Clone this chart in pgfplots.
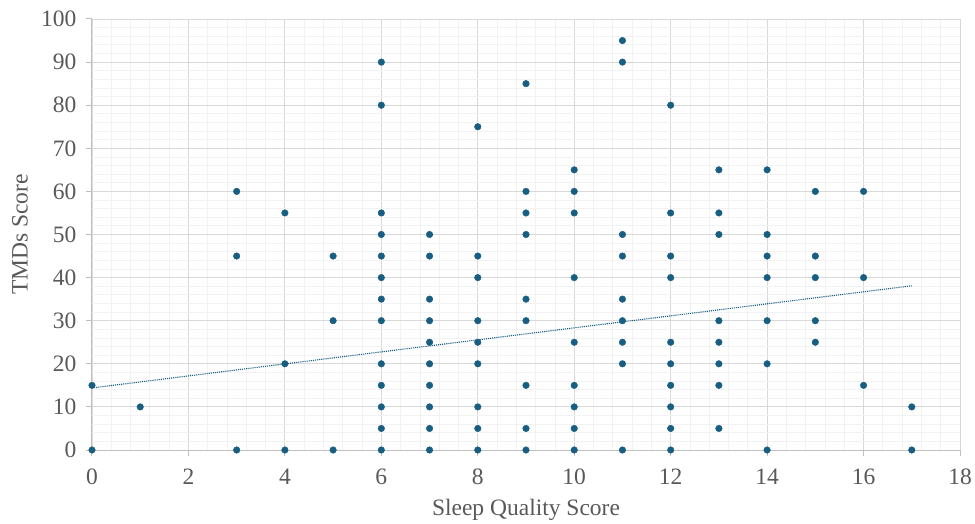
\documentclass[border=0pt]{standalone}
\usepackage{pgfplots}
\pgfplotsset{compat=1.18}
\usepackage{fontspec}
\setmainfont{Liberation Serif}

\definecolor{dotc}{HTML}{175E82}
\definecolor{gridmaj}{HTML}{D9D9D9}
\definecolor{gridmin}{HTML}{F2F2F2}
\definecolor{axisc}{HTML}{BFBFBF}
\definecolor{labc}{HTML}{595959}

% sleep quality vs TMDs score
\pgfplotstableread{
x y
0 0
0 15
1 10
3 0
3 45
3 60
4 0
4 20
4 55
5 0
5 30
5 45
6 0
6 5
6 10
6 15
6 20
6 30
6 35
6 40
6 45
6 50
6 55
6 80
6 90
7 0
7 5
7 10
7 15
7 20
7 25
7 30
7 35
7 45
7 50
8 0
8 5
8 10
8 20
8 25
8 30
8 40
8 45
8 75
9 0
9 5
9 15
9 30
9 35
9 50
9 55
9 60
9 85
10 0
10 5
10 10
10 15
10 25
10 40
10 55
10 60
10 65
11 0
11 20
11 25
11 30
11 35
11 45
11 50
11 90
11 95
12 0
12 5
12 10
12 15
12 20
12 25
12 40
12 45
12 55
12 80
13 5
13 15
13 20
13 25
13 30
13 50
13 55
13 65
14 0
14 20
14 30
14 40
14 45
14 50
14 65
15 25
15 30
15 40
15 45
15 60
16 15
16 40
16 60
17 0
17 10
}\sleepdata

\begin{document}
\begin{tikzpicture}
\begin{axis}[
    name=ax,
    scale only axis,
    width=868pt, height=431pt,
    xmin=0, xmax=18, ymin=0, ymax=100,
    xtick distance=2, ytick distance=10,
    minor x tick num=4, minor y tick num=4,
    grid=both,
    major grid style={draw=gridmaj, line width=0.9pt},
    minor grid style={draw=gridmin, line width=0.8pt},
    axis x line*=bottom, axis y line*=left,
    axis line style={draw=axisc, line width=1pt},
    tick align=outside, major tick length=6pt, minor tick length=0pt,
    major tick style={draw=axisc, line width=1pt},
    tick label style={font=\fontsize{23.5}{27}\selectfont, text=labc},
    /pgf/number format/assume math mode=true,
    xticklabel style={yshift=-9pt},
    yticklabel style={xshift=-6pt},
    xlabel={Sleep Quality Score}, ylabel={TMDs Score},
    label style={font=\fontsize{23.5}{27}\selectfont, text=labc},
    xlabel style={at={(axis description cs:0.5,-0.139)}, anchor=center},
    ylabel style={at={(axis description cs:-0.083,0.5)}, anchor=center},
]
    % linear trendline
    \addplot[dotc, line width=1.1pt, densely dotted] coordinates {(0,14.4) (17,38.1)};
    \addplot[only marks, mark=*, mark size=3.3pt, mark options={draw=dotc, fill=dotc}]
        table[x=x, y=y] {\sleepdata};
\end{axis}
\pgfresetboundingbox
\useasboundingbox ([shift={(-92pt,-73pt)}]ax.south west) rectangle ([shift={(883pt,450pt)}]ax.south west);
\end{tikzpicture}
\end{document}
